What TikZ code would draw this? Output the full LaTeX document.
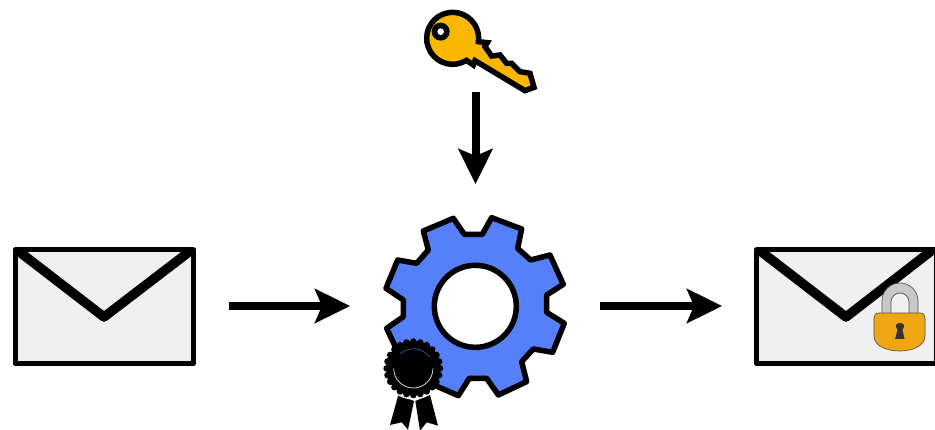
\documentclass[tikz,border=0pt]{standalone}
\usetikzlibrary{arrows.meta}
\definecolor{paper}{HTML}{F0F0F0}
\definecolor{gearblue}{HTML}{5580FA}
\definecolor{keygold}{HTML}{F9B700}
\definecolor{lockorange}{HTML}{F0A513}
\definecolor{shackle}{HTML}{C8C8C8}
\definecolor{lockedge}{HTML}{5A5648}
\tikzset{
  anchorbox/.style={inner sep=0pt,outer sep=0pt,minimum width=#1},
  flow/.style={line width=8pt,-{Stealth[length=35pt,width=34pt,inset=7pt]}},
  envelopebody/.style={fill=paper,draw=black,line width=5pt,line join=round},
  envelopeflap/.style={line width=9.5pt,line join=round,line cap=butt},
  iconline/.style={draw=black,line width=5.5pt,line join=round},
}
\begin{document}
\begin{tikzpicture}[x=1pt,y=-1pt]
\useasboundingbox (0,0) rectangle (935,430);
\fill[white] (0,0) rectangle (935,430);
% invisible nodes giving each icon its connection box
\node[anchorbox=184pt,minimum height=118pt] (msg) at (104,306) {};
\node[anchorbox=183pt,minimum height=182pt] (engine) at (475.5,306) {};
\node[anchorbox=181pt,minimum height=118pt] (cipher) at (844.5,306) {};
\node[anchorbox=114pt,minimum height=84pt] (key) at (480,50) {};
% plain envelope
\filldraw[envelopebody] (15,250) rectangle (193.5,363.5);
\begin{scope}
\clip (12.5,247.5) rectangle (196,366);
\draw[envelopeflap] (17,250) -- (104,317) -- (191.5,250);
\end{scope}
% encrypted envelope
\filldraw[envelopebody] (756.5,250) rectangle (936,363.5);
\begin{scope}
\clip (754,247.5) rectangle (935,366);
\draw[envelopeflap] (759,250) -- (846,317) -- (935,248);
\end{scope}
% padlock
\filldraw[fill=shackle,draw=lockedge,line width=.7pt] (882,315) -- (882,301) arc[start angle=180,end angle=360,radius=18] -- (918,315) -- (909,315) -- (909,302) arc[start angle=360,end angle=180,radius=9] -- (891,315) -- cycle;
\filldraw[fill=lockorange,draw=lockedge,line width=.7pt] (879,313) -- (920,313) .. controls (923.5,313) and (925,315) .. (925,318) -- (925,336) .. controls (925,346) and (912,351) .. (899.5,351) .. controls (887,351) and (874,346) .. (874,336) -- (874,318) .. controls (874,315) and (875.5,313) .. (879,313) -- cycle;
\fill[black!80] (895,339) -- (897.5,330) .. controls (894,325) and (897,323) .. (900,323) .. controls (903,323) and (906,325) .. (902.5,330) -- (904.5,339) -- cycle;
% key
\begin{scope}[shift={(410,0)},x=.3333pt,y=-.3333pt]
\filldraw[fill=keygold,iconline,line join=miter,miter limit=2.2] (169.3,181.1) arc[start angle=58,end angle=367.4,radius=78] -- (232,128) -- (225,140) -- (245,168) -- (270,165) -- (290,190) -- (305,190) -- (330,215) -- (360,220) -- (372,262) -- (345,272) -- (195,182) -- (190,195) -- cycle;
\fill[black] (92,95) circle[radius=27];
\fill[white] (92,95) circle[radius=10];
\end{scope}
% gear
\begin{scope}[shift={(370,205)},x=.3333pt,y=-.3333pt]
\filldraw[fill=gearblue,iconline] (250,40) -- (283,88) -- (337,88) -- (365,38) -- (455,72) -- (443,130) -- (482,165) -- (540,150) -- (580,238) -- (530,270) -- (530,322) -- (583,355) -- (548,442) -- (490,432) -- (455,470) -- (470,530) -- (385,570) -- (350,520) -- (298,520) -- (265,572) -- (180,535) -- (190,480) -- (150,440) -- (90,455) -- (50,370) -- (100,335) -- (100,285) -- (48,250) -- (83,165) -- (140,175) -- (175,135) -- (160,78) -- cycle;
\filldraw[fill=white,iconline] (316,304) circle[radius=123];
% seal ribbons
\fill[black] (85,570) -- (132,588) -- (114,674) -- (95,652) -- (60,660) -- cycle;
\fill[black] (136,588) -- (180,570) -- (204,662) -- (170,652) -- (150,677) -- cycle;
% seal rosette
\draw[white,line width=.8pt] (62,552) arc[start angle=138,end angle=42,radius=91];
\fill[black] (130,490) circle[radius=82];
\foreach \a in {0,15,...,345}{\fill[black] (130,490) ++(\a:80) circle[radius=10];}
\draw[white!85!black,line width=.8pt] (189,490) arc[start angle=0,end angle=180,radius=59];
\draw[black!25!gearblue,line width=.6pt] (90,447) arc[start angle=227,end angle=325,radius=59];
\end{scope}
% connectors
\draw[flow,shorten <=33pt,shorten >=34pt] (msg.east) -- (engine.west);
\draw[flow,shorten <=33pt,shorten >=32pt] (engine.east) -- (cipher.west);
\draw[flow,shorten >=31pt] (engine.north |- key.south) -- (engine.north);
\end{tikzpicture}
\end{document}
